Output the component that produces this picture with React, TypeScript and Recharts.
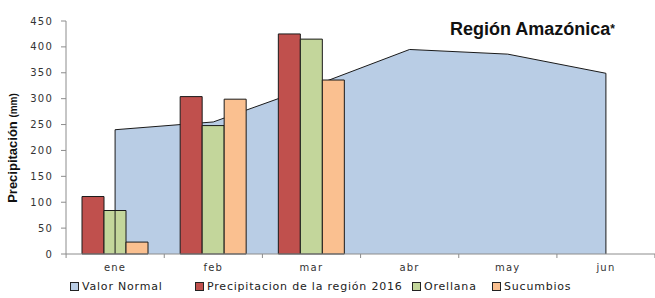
import React from "react";
import {
  ComposedChart,
  Area,
  Bar,
  XAxis,
  YAxis,
  ReferenceLine,
} from "recharts";

const months = ["ene", "feb", "mar", "abr", "may", "jun"];
const valorNormal = [240, 255, 323, 395, 386, 349];
const region2016 = [111, 304, 425];
const orellana = [84, 248, 415];
const sucumbios = [23, 299, 336];
const yTicks = [0, 50, 100, 150, 200, 250, 300, 350, 400, 450];

const series = [
  { key: "normal", name: "Valor Normal", color: "#B9CDE5" },
  { key: "region", name: "Precipitacion de la región 2016", color: "#C0504D" },
  { key: "orellana", name: "Orellana", color: "#C3D69B" },
  { key: "sucumbios", name: "Sucumbios", color: "#FAC090" },
];

const data = months.map((m, i) => ({
  month: m,
  normal: valorNormal[i],
  region: region2016[i],
  orellana: orellana[i],
  sucumbios: sucumbios[i],
}));

const tickFont = "'DejaVu Sans', Verdana, sans-serif";
const legendLeft = [70, 195, 412, 492];
const HALF_BAND = 49;

function MonthTick(props: any) {
  const { x, y, payload, index } = props;
  const last = index === months.length - 1;
  return (
    <g>
      <line x1={x - HALF_BAND} x2={x - HALF_BAND} y1={y} y2={y + 4} stroke="#8c8c8c" />
      {last && (
        <line x1={x + HALF_BAND} x2={x + HALF_BAND} y1={y} y2={y + 4} stroke="#8c8c8c" />
      )}
      <text
        x={x}
        y={y + 17}
        textAnchor="middle"
        fontFamily={tickFont}
        fontSize={10}
        letterSpacing={1.2}
        fill="#333"
      >
        {payload.value}
      </text>
    </g>
  );
}

export default function App() {
  const first = months[0];
  const lastM = months[months.length - 1];
  return (
    <div style={{ position: "relative", width: 655, height: 298, background: "#fff" }}>
      <style>{`body{margin:0}`}</style>
      <ComposedChart
        width={655}
        height={298}
        data={data}
        margin={{ top: 21, right: 0, left: 0, bottom: 24 }}
        barGap={0}
        barSize={22}
      >
        <XAxis
          dataKey="month"
          height={20}
          tickSize={0}
          tickMargin={0}
          stroke="#8c8c8c"
          tick={<MonthTick />}
          interval={0}
        />
        <YAxis
          width={66}
          domain={[0, 450]}
          ticks={yTicks}
          tickSize={5}
          tickMargin={8}
          stroke="#8c8c8c"
          tick={{ fontFamily: tickFont, fontSize: 10, fill: "#333", letterSpacing: 1.2 }}
        />
        <Area
          dataKey="normal"
          name={series[0].name}
          type="linear"
          fill={series[0].color}
          fillOpacity={1}
          stroke="#1a1a1a"
          strokeWidth={1}
          dot={false}
          activeDot={false}
          isAnimationActive={false}
        />
        <ReferenceLine
          segment={[{ x: first, y: 0 }, { x: first, y: valorNormal[0] }]}
          stroke="#1a1a1a"
        />
        <ReferenceLine
          segment={[{ x: lastM, y: 0 }, { x: lastM, y: valorNormal[months.length - 1] }]}
          stroke="#1a1a1a"
        />
        {series.slice(1).map((s) => (
          <Bar
            key={s.key}
            dataKey={s.key}
            name={s.name}
            fill={s.color}
            stroke="#1a1a1a"
            strokeWidth={1}
            isAnimationActive={false}
          />
        ))}
      </ComposedChart>

      <div
        style={{
          position: "absolute",
          left: 450,
          top: 19,
          fontFamily: "'Liberation Sans', Arial, sans-serif",
          fontWeight: 700,
          fontSize: 18,
          color: "#111",
          whiteSpace: "nowrap",
        }}
      >
        Región Amazónica<span style={{ fontSize: 12, verticalAlign: 2 }}>*</span>
      </div>

      <div
        style={{
          position: "absolute",
          left: 12,
          top: 148,
          transform: "translate(-50%, -50%) rotate(-90deg)",
          fontFamily: "'Liberation Sans', Arial, sans-serif",
          fontWeight: 700,
          fontSize: 13,
          color: "#111",
          whiteSpace: "nowrap",
        }}
      >
        Precipitación <span style={{ fontSize: 10 }}>(mm)</span>
      </div>

      {series.map((s, i) => (
        <div
          key={s.key}
          style={{
            position: "absolute",
            left: legendLeft[i],
            top: 280,
            display: "flex",
            alignItems: "center",
            fontFamily: tickFont,
            fontSize: 11,
            letterSpacing: 0.8,
            color: "#222",
            whiteSpace: "nowrap",
          }}
        >
          <span
            style={{
              width: 7,
              height: 7,
              background: s.color,
              border: "1px solid #222",
              marginRight: 3,
              display: "inline-block",
            }}
          />
          {s.name}
        </div>
      ))}
    </div>
  );
}
